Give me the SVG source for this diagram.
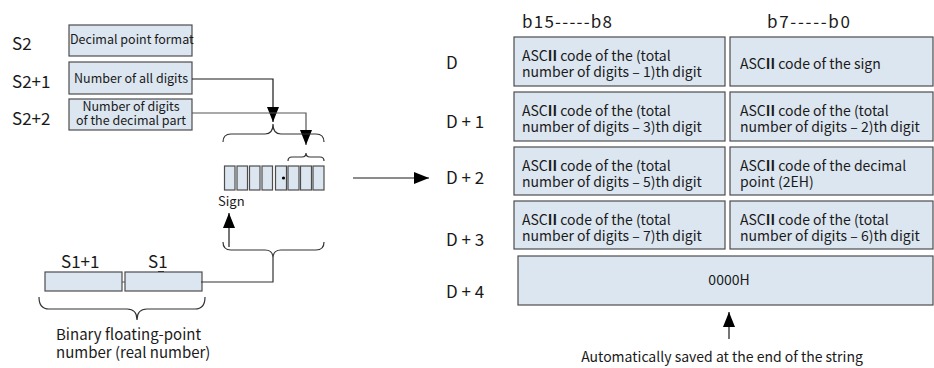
<svg xmlns="http://www.w3.org/2000/svg" width="934" height="368" viewBox="0 0 934 368">
<style>
text{font-family:"Noto Sans CJK SC","Noto Sans",sans-serif;fill:#1a1a1a}
.box{fill:#dce6f0;stroke:#4d4d4d;stroke-width:1.2}
.lbl{font-size:17px}
.t15{font-size:15px}
.t12{font-size:12.5px}
.t13{font-size:13px}
.t14{font-size:14px}
.b{font-weight:bold}
.ln{fill:none;stroke:#1a1a1a;stroke-width:1.2}
.gr{fill:none;stroke:#555;stroke-width:1.2}
.br{fill:none;stroke:#333;stroke-width:1.2}
</style>
<defs>
<marker id="ah" markerUnits="userSpaceOnUse" markerWidth="16" markerHeight="12" refX="15" refY="6" orient="auto">
<path d="M0,0 L15,6 L0,12 Z" fill="#000"/>
</marker>
</defs>

<!-- left labels -->
<text class="lbl" x="12" y="50">S2</text>
<text class="lbl" x="12" y="88">S2+1</text>
<text class="lbl" x="12" y="125">S2+2</text>

<g id="s2">
<rect class="box" x="69" y="25" width="123" height="31"/>
<text class="t12" x="70" y="44">Decimal point format</text>
</g>
<g id="s2p1">
<rect class="box" x="69" y="62" width="123" height="32"/>
<text class="t12" x="131" y="83" text-anchor="middle">Number of all digits</text>
</g>
<g id="s2p2">
<rect class="box" x="69" y="99" width="123" height="31"/>
<text class="t12" x="131" y="111" text-anchor="middle">Number of digits</text>
<text class="t12" x="131" y="125" text-anchor="middle">of the decimal part</text>
</g>

<g id="cells">
<rect class="box" x="224.5" y="166" width="10.5" height="24"/>
<rect class="box" x="237" y="166" width="10.5" height="24"/>
<rect class="box" x="249.5" y="166" width="10.5" height="24"/>
<rect class="box" x="262" y="166" width="10.5" height="24"/>
<rect class="box" x="275.5" y="166" width="11" height="24"/>
<rect class="box" x="288" y="166" width="11" height="24"/>
<rect class="box" x="300.5" y="166" width="11" height="24"/>
<rect class="box" x="313" y="166" width="11" height="24"/>
<circle cx="283.5" cy="178" r="1.6" fill="#000"/>
<text class="t13" x="218" y="206">Sign</text>
</g>

<g id="s1">
<rect class="box" x="45" y="272" width="77" height="19"/>
<rect class="box" x="125" y="272" width="77" height="19"/>
<text class="lbl" x="61" y="268">S1+1</text>
<text class="lbl" x="148" y="268">S1</text>
<line x1="158" y1="271.5" x2="164" y2="271.5" stroke="#333" stroke-width="1"/>
<line x1="122" y1="282" x2="125" y2="282" stroke="#555" stroke-width="1"/>
<text class="t15" x="56" y="340">Binary floating-point</text>
<text class="t15" x="56" y="358">number (real number)</text>
</g>

<g id="connectors">
<path class="ln" d="M192,79 H273 V122" marker-end="url(#ah)"/>
<path class="gr" d="M192,113 H306 V145" marker-end="url(#ah)"/>
<path class="br" d="M223,142 Q223,134 231,134 L265,134 Q273,134 273,124 Q273,134 281,134 L316,134 Q324,134 324,142"/>
<path class="br" d="M288,161 Q288,157 292,157 L302,157 Q306,157 306,153 Q306,157 310,157 L320,157 Q324,157 324,161"/>
<path class="br" d="M223,242 Q223,250 231,250 L265,250 Q273,250 273,258 Q273,250 281,250 L316,250 Q324,250 324,242"/>
<path class="br" d="M273,258 V282 H201"/>
<path class="ln" d="M229,247 V213" marker-end="url(#ah)"/>
<path class="br" d="M39,297 Q39,309 49,309 L127,309 Q137,309 137,320 Q137,309 147,309 L195,309 Q205,309 205,297"/>
<path class="ln" d="M353,178 H429" marker-end="url(#ah)"/>
<path class="ln" d="M729,339 V312" marker-end="url(#ah)"/>
</g>

<!-- table headers -->
<text class="lbl" x="522" y="28" textLength="90" lengthAdjust="spacing">b15-----b8</text>
<text class="lbl" x="767" y="28" textLength="83" lengthAdjust="spacing">b7-----b0</text>
<text class="lbl" x="446" y="69">D</text>
<text class="lbl" x="446" y="128">D + 1</text>
<text class="lbl" x="446" y="184">D + 2</text>
<text class="lbl" x="446" y="246">D + 3</text>
<text class="lbl" x="446" y="298">D + 4</text>

<g id="d0a">
<rect class="box" x="514" y="37" width="211" height="49"/>
<text class="t14" x="522" y="61">ASC<tspan class="b">II</tspan> code of the (total</text>
<text class="t14" x="522" y="77">number of digits – 1)th digit</text>
</g>
<g id="d0b">
<rect class="box" x="730" y="37" width="203" height="49"/>
<text class="t14" x="740" y="69">ASC<tspan class="b">II</tspan> code of the sign</text>
</g>
<g id="d1a">
<rect class="box" x="514" y="92" width="211" height="49"/>
<text class="t14" x="522" y="116">ASC<tspan class="b">II</tspan> code of the (total</text>
<text class="t14" x="522" y="132">number of digits – 3)th digit</text>
</g>
<g id="d1b">
<rect class="box" x="730" y="92" width="203" height="49"/>
<text class="t14" x="740" y="116">ASC<tspan class="b">II</tspan> code of the (total</text>
<text class="t14" x="740" y="132">number of digits – 2)th digit</text>
</g>
<g id="d2a">
<rect class="box" x="514" y="147" width="211" height="48"/>
<text class="t14" x="522" y="171">ASC<tspan class="b">II</tspan> code of the (total</text>
<text class="t14" x="522" y="187">number of digits – 5)th digit</text>
</g>
<g id="d2b">
<rect class="box" x="730" y="147" width="203" height="48"/>
<text class="t14" x="740" y="171">ASC<tspan class="b">II</tspan> code of the decimal</text>
<text class="t14" x="740" y="187">point (2EH)</text>
</g>
<g id="d3a">
<rect class="box" x="514" y="201" width="211" height="48"/>
<text class="t14" x="522" y="225">ASC<tspan class="b">II</tspan> code of the (total</text>
<text class="t14" x="522" y="241">number of digits – 7)th digit</text>
</g>
<g id="d3b">
<rect class="box" x="730" y="201" width="203" height="48"/>
<text class="t14" x="740" y="225">ASC<tspan class="b">II</tspan> code of the (total</text>
<text class="t14" x="740" y="241">number of digits – 6)th digit</text>
</g>
<g id="d4">
<rect class="box" x="518" y="256" width="415" height="49"/>
<text class="t14" x="729" y="285" text-anchor="middle">0000H</text>
</g>
<text class="t14" x="722" y="362" text-anchor="middle">Automatically saved at the end of the string</text>
</svg>
